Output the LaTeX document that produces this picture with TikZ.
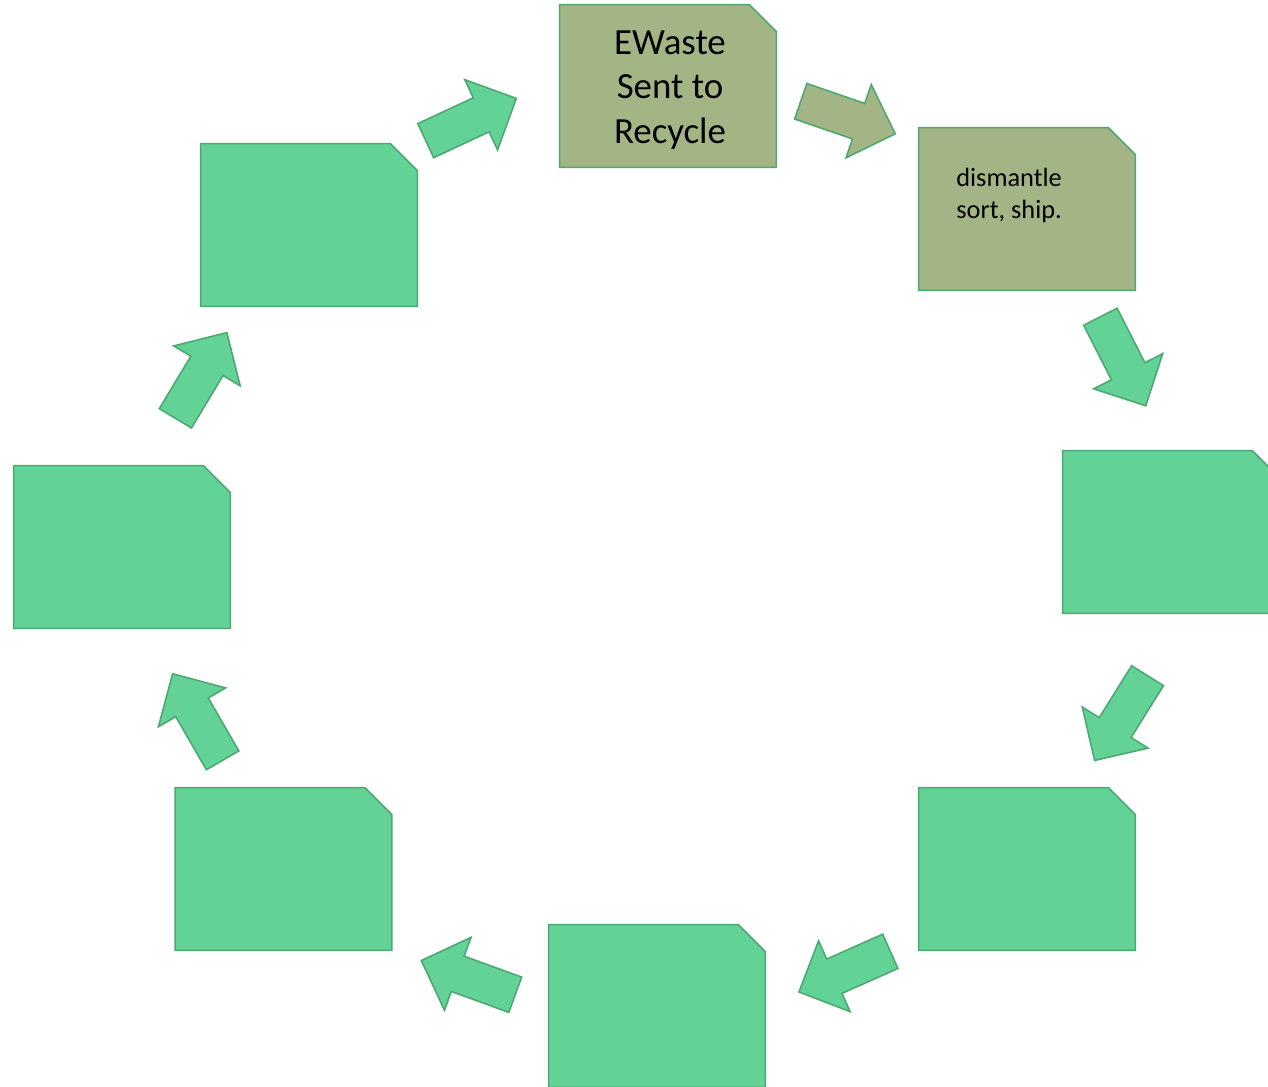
\documentclass[tikz,border=0pt]{standalone}
\usepackage{fontspec}
\setmainfont{Carlito}
\usetikzlibrary{shapes}
\usetikzlibrary{shapes.arrows}
\usetikzlibrary{positioning}
\definecolor{mint}{HTML}{63D297}
\definecolor{olive}{HTML}{A4B585}
\definecolor{rim}{HTML}{4EA872}
\tikzset{
    stepbox/.style = {rectangle, inner sep=0pt, minimum width=4.32cm, minimum height=3.24cm},
    stepedge/.style = {draw=rim, line width=0.9pt, line join=miter, fill=mint},
    stepedgeo/.style = {stepedge, fill=olive},
    blockarr/.style = {single arrow, anchor=tail, draw=rim, line width=0.9pt, fill=mint,
        inner sep=0pt, inner ysep=0.36cm, single arrow head extend=0.4cm,
        minimum height=2.0cm},
    blockarro/.style = {blockarr, fill=olive},
}
% box outline with the cut corner
\newcommand{\cutbox}[2]{\path[#2] (#1.south west) -- (#1.north west)
    -- ([xshift=-0.54cm]#1.north east) -- ([yshift=-0.54cm]#1.north east)
    -- (#1.south east) -- cycle;}

\begin{document}
\begin{tikzpicture}[x=0.02cm,y=-0.02cm]
\useasboundingbox (0,0) rectangle (1268,1086);
\node[stepbox] at (668, 86) (b1) {};
\node[stepbox] at (1027, 209) (b2) {};
\node[stepbox] at (1171, 532) (b3) {};
\node[stepbox] at (1027, 869) (b4) {};
\node[stepbox] at (657, 1006) (b5) {};
\node[stepbox] at (283.5, 869) (b6) {};
\node[stepbox] at (122, 547) (b7) {};
\node[stepbox] at (309, 225) (b8) {};
%
\cutbox{b1}{stepedgeo}
\cutbox{b2}{stepedgeo}
\foreach \b in {b3,b4,b5,b6,b7,b8} {\cutbox{\b}{stepedge}}
%
\node[align=center, font=\fontsize{21}{25.3}\selectfont] at (670, 90) (t1) {EWaste\\Sent to\\Recycle};
\node[anchor=north west, align=left, inner sep=0pt, font=\fontsize{15}{18.2}\selectfont]
    at (956, 168) (t2) {dismantle\\sort, ship.};
%
\node[blockarr, rotate=25] at (425, 141) (a81) {};
\node[blockarro, rotate=-19] at (800, 101) (a12) {};
\node[blockarr, rotate=-63] at (1100, 316) (a23) {};
\node[blockarr, rotate=-122] at (1148, 675) (a34) {};
\node[blockarr, rotate=-156] at (891, 951) (a45) {};
\node[blockarr, rotate=160] at (516, 995) (a56) {};
\node[blockarr, rotate=120] at (223, 761) (a67) {};
\node[blockarr, rotate=59] at (175, 419) (a78) {};
\end{tikzpicture}
\end{document}
